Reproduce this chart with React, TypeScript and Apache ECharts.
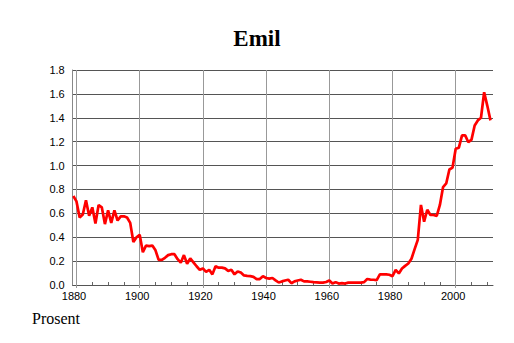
import React, { useEffect, useRef } from "react";
import * as echarts from "echarts";

const startYear = 1879;
const values = [
  0.745, 0.7, 0.565, 0.59, 0.71, 0.58, 0.65, 0.515, 0.67, 0.65,
  0.51, 0.625, 0.52, 0.625, 0.54, 0.575, 0.575, 0.565, 0.52, 0.36,
  0.4, 0.42, 0.275, 0.33, 0.325, 0.33, 0.29, 0.21, 0.21, 0.228,
  0.25, 0.258, 0.258, 0.216, 0.187, 0.25, 0.178, 0.222, 0.19, 0.157,
  0.127, 0.139, 0.11, 0.127, 0.089, 0.157, 0.145, 0.145, 0.139, 0.118,
  0.127, 0.089, 0.113, 0.104, 0.08, 0.076, 0.074, 0.068, 0.05, 0.05,
  0.074, 0.059, 0.053, 0.059, 0.039, 0.021, 0.03, 0.038, 0.044, 0.015,
  0.03, 0.038, 0.044, 0.03, 0.03, 0.027, 0.024, 0.022, 0.02, 0.02,
  0.025, 0.038, 0.012, 0.024, 0.012, 0.015, 0.012, 0.02, 0.02, 0.02,
  0.02, 0.02, 0.024, 0.05, 0.045, 0.044, 0.041, 0.089, 0.089, 0.089,
  0.086, 0.074, 0.126, 0.097, 0.138, 0.16, 0.18, 0.22, 0.3, 0.378,
  0.67, 0.53, 0.63, 0.586, 0.586, 0.578, 0.67, 0.82, 0.85, 0.967,
  0.983, 1.14, 1.15, 1.253, 1.253, 1.195, 1.217, 1.336, 1.378, 1.4,
  1.614, 1.5, 1.378,
];
const xLabelYears = [1880, 1900, 1920, 1940, 1960, 1980, 2000];
const minorTickYears = [
  1880, 1885, 1890, 1895, 1900, 1905, 1910, 1915, 1920, 1925, 1930, 1935,
  1940, 1945, 1950, 1955, 1960, 1965, 1970, 1975, 1980, 1985, 1990, 1995,
  2000, 2005, 2010,
];
const titleText = "Emil";
const yAxisName = "Prosent";

const sans = "Liberation Sans";
const serif = "Liberation Serif";

export default function App() {
  const ref = useRef<HTMLDivElement>(null);
  useEffect(() => {
    const chart = echarts.init(ref.current!, null, { renderer: "svg" });
    const data = values.map((v, i) => [startYear + i, v]);
    chart.setOption({
      animation: false,
      backgroundColor: "#fff",
      title: {
        text: titleText,
        left: "center",
        top: 22,
        textStyle: { fontFamily: serif, fontSize: 23, fontWeight: "bold", color: "#000" },
      },
      graphic: [
        {
          type: "text",
          left: 32,
          top: 310,
          style: { text: yAxisName, font: `16px "${serif}"`, fill: "#000" },
        },
      ],
      grid: { left: 72.7, right: 21, top: 70, bottom: 58 },
      xAxis: [
        {
          type: "value",
          min: 1878.8,
          max: 2011.8,
          position: "bottom",
          axisLine: { show: true, lineStyle: { color: "#555", width: 1 } },
          axisTick: {
            show: true,
            inside: true,
            length: 3,
            customValues: minorTickYears,
            lineStyle: { color: "#666" },
          },
          axisLabel: {
            customValues: xLabelYears,
            formatter: (v: number) => String(v),
            fontFamily: sans,
            fontSize: 11,
            color: "#000",
            margin: 5,
            padding: [0, 5, 0, 0],
          },
          splitLine: { show: false },
        },
        {
          type: "value",
          min: 1878.8,
          max: 2011.8,
          position: "bottom",
          axisLine: { show: false },
          axisTick: {
            show: true,
            length: 3,
            customValues: xLabelYears,
            lineStyle: { color: "#999" },
          },
          axisLabel: { show: false },
          splitLine: { show: false },
        },
      ],
      yAxis: {
        type: "value",
        min: 0,
        max: 1.8,
        interval: 0.2,
        axisLine: { show: true, lineStyle: { color: "#888" } },
        axisTick: { show: false },
        axisLabel: {
          formatter: (v: number) => v.toFixed(1),
          margin: 8,
          fontFamily: sans,
          fontSize: 11,
          color: "#000",
        },
        splitLine: { show: true, lineStyle: { color: "#555", width: 1 } },
      },
      series: [
        {
          type: "line",
          data,
          symbol: "none",
          showSymbol: false,
          z: 3,
          lineStyle: { color: "#ff0000", width: 2.7 },
          markLine: {
            silent: true,
            z: 1,
            symbol: ["none", "none"],
            label: { show: false },
            emphasis: { disabled: true },
            lineStyle: { color: "#999", type: "solid", width: 1 },
            data: xLabelYears.map((y) => ({ xAxis: y })),
          },
        },
      ],
    });
    return () => chart.dispose();
  }, []);
  return (
    <div
      ref={ref}
      style={{ position: "fixed", left: 0, top: 0, width: 514, height: 343 }}
    />
  );
}
